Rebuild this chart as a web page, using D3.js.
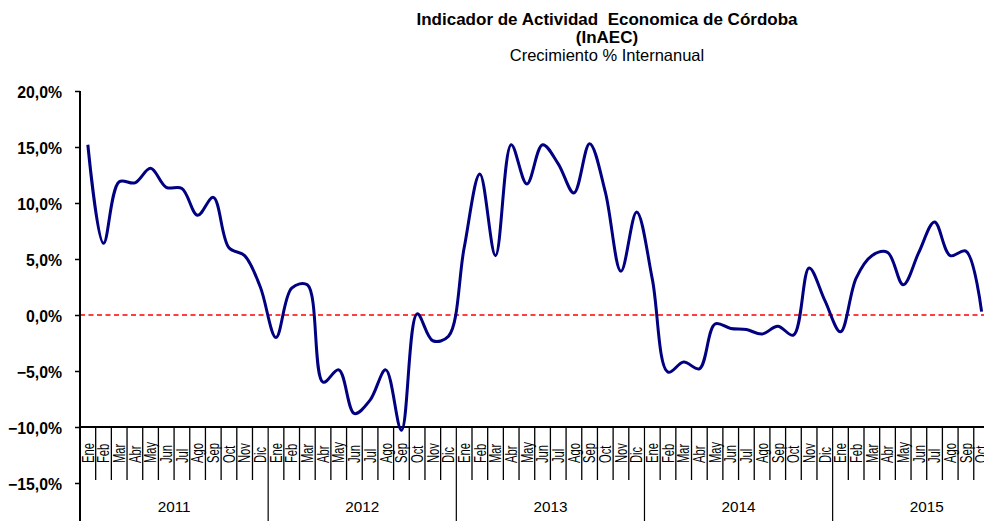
<!DOCTYPE html>
<html>
<head>
<meta charset="utf-8">
<script src="https://cdn.jsdelivr.net/npm/d3@7"></script>
<style>
  html, body { margin: 0; padding: 0; background: #fff; }
  svg { display: block; font-family: "Liberation Sans", Arial, sans-serif; }
</style>
</head>
<body>
<svg id="chart" width="984" height="521"></svg>
<script>
// ---- data ----
const monthNames = ["Ene","Feb","Mar","Abr","May","Jun","Jul","Ago","Sep","Oct","Nov","Dic"];
const years = ["2011","2012","2013","2014","2015"];
const months = [];
years.forEach((y, yi) => monthNames.forEach((m, mi) => { if (yi < 4 || mi < 10) months.push(m); }));
const values = [
  15.2, 6.4, 11.9, 11.8, 13.1, 11.4, 11.3, 8.9, 10.5, 6.0, 5.3, 2.5,
  -2.0, 2.4, 2.7, -6.0, -4.9, -8.8, -7.6, -4.9, -10.3, 0.1, -2.3, -1.9,
  6.0, 12.6, 5.3, 15.2, 11.7, 15.2, 13.5, 10.9, 15.3, 11.0, 3.9, 9.2,
  3.2, -5.1, -4.2, -4.8, -0.8, -1.2, -1.3, -1.7, -1.0, -1.8, 4.2, 1.3,
  -1.5, 3.3, 5.3, 5.6, 2.7, 5.6, 8.3, 5.3, 5.7, 0.3
];
const yTicks = [-15, -10, -5, 0, 5, 10, 15, 20];
const titleLines = ["Indicador de Actividad  Economica de Córdoba", "(InAEC)"];
const subtitle = "Crecimiento % Internanual";

// ---- layout ----
const W = 984, H = 521;
const left = 80, bw = 15.68;
const svg = d3.select("#chart");

const x = d3.scaleBand().domain(d3.range(months.length)).range([left, left + months.length * bw]).padding(0);
const y = d3.scaleLinear().domain([-15, 20]).range([483, 91]);
const axisY = y(-10);

// title
const tx = 607;
svg.append("text").attr("x", tx).attr("y", 25).attr("text-anchor", "middle")
  .attr("font-size", 17).attr("font-weight", "bold").style("white-space", "pre").text(titleLines[0]);
svg.append("text").attr("x", tx).attr("y", 43).attr("text-anchor", "middle")
  .attr("font-size", 17).attr("font-weight", "bold").text(titleLines[1]);
svg.append("text").attr("x", tx).attr("y", 61).attr("text-anchor", "middle")
  .attr("font-size", 16.5).text(subtitle);

// zero line
svg.append("line").attr("x1", left).attr("x2", W).attr("y1", y(0)).attr("y2", y(0))
  .attr("stroke", "#ff0000").attr("stroke-width", 1.3).attr("stroke-dasharray", "5,3.5");

// y axis
const fmt = v => d3.format(".1f")(v).replace(".", ",") + "%";
const yAxis = svg.append("g").attr("transform", `translate(${left},0)`)
  .call(d3.axisLeft(y).tickValues(yTicks).tickSize(5).tickFormat(fmt));
yAxis.select(".domain").remove();
yAxis.selectAll(".tick line").attr("stroke", "#000").attr("stroke-width", 1.5);
yAxis.selectAll(".tick text").attr("x", -18).attr("dy", "0.42em")
  .attr("font-size", 15.8).attr("font-weight", "bold").attr("font-family", "Liberation Sans, Arial, sans-serif").attr("fill", "#000");
svg.append("line").attr("x1", left).attr("x2", left).attr("y1", y(20)).attr("y2", H)
  .attr("stroke", "#000").attr("stroke-width", 2);

// month ticks
const g = svg.append("g");
d3.range(1, months.length + 1).forEach(k => {
  const xx = left + k * bw;
  const isYear = k % 12 === 0;
  g.append("line").attr("x1", xx).attr("x2", xx).attr("y1", axisY).attr("y2", isYear ? H : 480)
    .attr("stroke", "#000").attr("stroke-width", isYear ? 1.2 : 1.3);
});

// month labels
g.selectAll("text.m").data(months).join("text").attr("class", "m")
  .attr("transform", (d, i) => `translate(${x(i) + x.bandwidth() / 2},463) rotate(-90) scale(0.7,1)`)
  .attr("dy", "0.36em").attr("font-size", 16).attr("fill", "#000").text(d => d);

// year labels
years.forEach((yr, i) => {
  const x0 = left + i * 12 * bw, x1 = left + (i + 1) * 12 * bw;
  g.append("text").attr("x", (x0 + x1) / 2).attr("y", 512).attr("text-anchor", "middle")
    .attr("font-size", 15.3).attr("fill", "#000").text(yr);
});

// x axis line
svg.append("line").attr("x1", left).attr("x2", W).attr("y1", axisY).attr("y2", axisY)
  .attr("stroke", "#000").attr("stroke-width", 2);

// series line
const line = d3.line()
  .x((d, i) => x(i) + x.bandwidth() / 2)
  .y(d => y(d))
  .curve(d3.curveCatmullRom.alpha(0.5));
svg.append("path").datum(values).attr("d", line)
  .attr("fill", "none").attr("stroke", "#000080").attr("stroke-width", 3).attr("stroke-linejoin", "round");
</script>
</body>
</html>
